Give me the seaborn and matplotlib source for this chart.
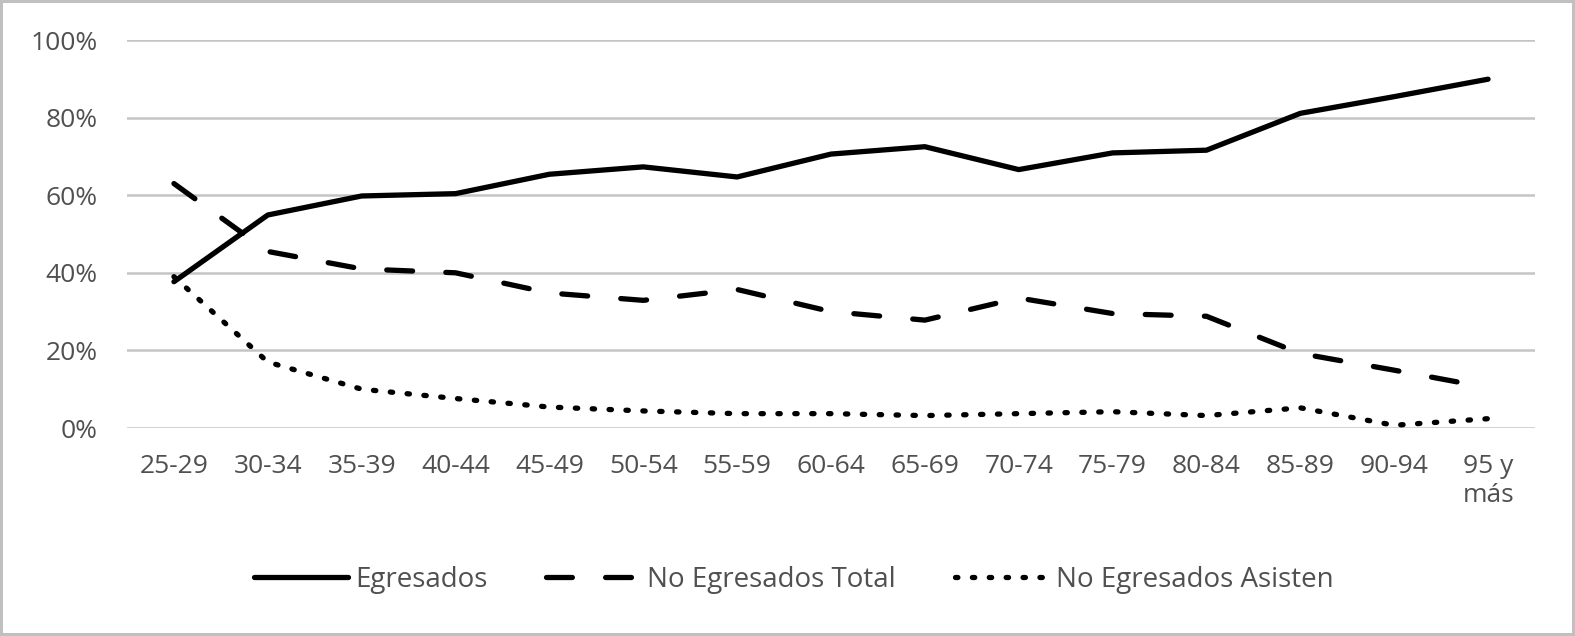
import numpy as np
import pandas as pd
import matplotlib
matplotlib.use("Agg")
import matplotlib.pyplot as plt
import seaborn as sns
from matplotlib.ticker import PercentFormatter

# Values (percent)
age_groups = ["25-29", "30-34", "35-39", "40-44", "45-49", "50-54", "55-59",
              "60-64", "65-69", "70-74", "75-79", "80-84", "85-89", "90-94",
              "95 y\nmás"]
egresados = [37.7, 54.9, 59.8, 60.4, 65.4, 67.3, 64.7, 70.6, 72.5, 66.6,
             70.9, 71.6, 81.1, 85.4, 89.9]
no_egresados_total = [63.0, 45.5, 41.0, 40.0, 34.8, 32.9, 35.7, 30.0, 27.8,
                      33.5, 29.5, 28.8, 19.2, 14.9, 10.4]
no_egresados_asisten = [39.0, 17.0, 10.0, 7.6, 5.4, 4.4, 3.7, 3.7, 3.2, 3.7,
                        4.2, 3.2, 5.2, 0.7, 2.4]

series_names = ["Egresados", "No Egresados Total", "No Egresados Asisten"]

df = pd.DataFrame({
    "pos": list(range(len(age_groups))) * 3,
    "valor": egresados + no_egresados_total + no_egresados_asisten,
    "serie": np.repeat(series_names, len(age_groups)),
})

sns.set_style("white")
plt.rcParams['font.family'] = ['Open Sans', 'DejaVu Sans']

fig = plt.figure(figsize=(15.75, 6.36), dpi=100)
ax = fig.add_axes([127 / 1575, 1 - 428 / 636, (1535 - 127) / 1575, (428 - 40) / 636])

sns.lineplot(data=df, x="pos", y="valor", hue="serie", style="serie",
             hue_order=series_names, style_order=series_names,
             palette=["black"] * 3,
             dashes={"Egresados": "",
                     "No Egresados Total": (4.9, 6.3),
                     "No Egresados Asisten": (0.45, 2.75)},
             linewidth=3.8, ax=ax, legend=True)

for ln in ax.get_lines():
    ln.set_dash_capstyle("round")
    ln.set_solid_capstyle("round")

ax.set_xlim(-0.5, len(age_groups) - 0.5)
ax.set_ylim(0, 100)
ax.set_yticks([0, 20, 40, 60, 80, 100])
ax.yaxis.set_major_formatter(PercentFormatter(decimals=0))
ax.set_xticks(range(len(age_groups)))
ax.set_xticklabels(age_groups)
ax.grid(axis="y", color="#c4c4c4", linewidth=1.8)
ax.set_axisbelow(True)
for s in ax.spines.values():
    s.set_visible(False)
ax.tick_params(axis="both", labelsize=19, colors="#505050", length=0)
ax.tick_params(axis="y", pad=21)
ax.tick_params(axis="x", pad=19)
ax.set_xlabel("")
ax.set_ylabel("")

handles, labels = ax.get_legend_handles_labels()
ax.legend_.remove()
for h in handles:
    h.set_dash_capstyle("round")
    h.set_solid_capstyle("round")
fig.legend(handles, labels, loc="center", bbox_to_anchor=(0.504, 1 - 580 / 636),
           ncol=3, frameon=False, fontsize=20, handlelength=3.4,
           columnspacing=2.1, handletextpad=0.25, labelcolor="#505050")

fig.patch.set_edgecolor("#c0c0c0")
fig.patch.set_linewidth(4)
fig.savefig("out.png", dpi=100, edgecolor=fig.get_edgecolor())
